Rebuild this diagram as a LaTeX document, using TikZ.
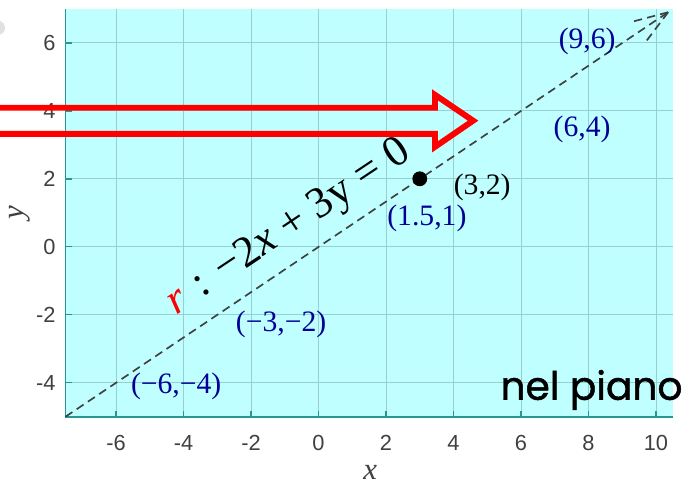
\documentclass[tikz,border=0pt]{standalone}
\usepackage{fontspec}
\setmainfont{Liberation Serif}
\newfontfamily\ticksf{Liberation Sans}
\newfontfamily\handsf{Poppins}[FakeBold=1.2]
\definecolor{plotbg}{RGB}{191,255,255}
\definecolor{axteal}{RGB}{38,150,150}
\definecolor{gridteal}{RGB}{150,208,208}
\definecolor{ticklab}{RGB}{64,64,64}
\definecolor{ptblue}{RGB}{0,0,150}
\definecolor{blob}{RGB}{225,225,225}
\begin{document}
\begin{tikzpicture}[x=0.5cm, y=0.5037cm,
  ticklbl/.style={font=\ticksf\fontsize{9.2}{11}\selectfont, text=ticklab, inner sep=0pt},
  ptlbl/.style={font=\fontsize{12.5}{14}\selectfont, text=ptblue, inner sep=0pt},
  axlbl/.style={font=\fontsize{13}{15}\selectfont\itshape, text=ticklab, inner sep=0pt},
  dashline/.style={draw=ticklab, line width=0.7pt, dash pattern=on 3.5pt off 2.2pt},
  bigarrow/.style={red, line width=2.5pt, miter limit=10}]
  \useasboundingbox (-9.44,-7.15) rectangle (10.8,7.26);
  \fill[blob] (-9.5,6.44) circle (0.21);
  % plot area and grid
  \fill[plotbg] (-7.5,-5) rectangle (10.5,7);
  \foreach \x in {-6,-4,...,10} \draw[gridteal, line width=0.4pt] (\x,-5) -- (\x,7);
  \foreach \y in {-4,-2,...,6} \draw[gridteal, line width=0.4pt] (-7.5,\y) -- (10.5,\y);
  \draw[axteal, line width=0.8pt] (-7.5,7) -- (-7.5,-5) -- (10.5,-5);
  \foreach \x [count=\i] in {-6,-4,...,10} {
    \draw[axteal, line width=0.6pt] (\x,-5) -- (\x,-4.82);
    \node[ticklbl] (xt\i) at (\x,-5.76) {\x};
  }
  \foreach \y [count=\i] in {-4,-2,...,6} {
    \draw[axteal, line width=0.6pt] (-7.5,\y) -- (-7.32,\y);
    \node[ticklbl, anchor=east] (yt\i) at (-7.78,\y) {\y};
  }
  \node[axlbl] (xlab) at (1.53,-6.65) {x};
  \node[axlbl, rotate=90] (ylab) at (-8.85,1.0) {y};
  % the line r and its points
  \coordinate (lstart) at (-7.5,-5);
  \coordinate (ltip) at (10.36,6.9);
  \draw[dashline] (lstart) -- (ltip);
  \draw[dashline] (ltip) -- ++(194.7:1.15);
  \draw[dashline] (ltip) -- ++(232.7:1.15);
  \node[circle, fill=black, inner sep=0pt, minimum size=0.22cm] (dot) at (3,2) {};
  \node[ptlbl] (p96) at (7.96,6.03) {(9,6)};
  \node[ptlbl] (p64) at (7.81,3.44) {(6,4)};
  \node[ptlbl, text=black] (p32) at (4.85,1.74) {(3,2)};
  \node[ptlbl] (p151) at (3.21,0.85) {(1.5,1)};
  \node[ptlbl] (pm32) at (-1.11,-2.29) {(−3,−2)};
  \node[ptlbl] (pm64) at (-4.22,-4.12) {(−6,−4)};
  \node[font=\fontsize{18.5}{21}\selectfont, rotate=33.7, anchor=base, inner sep=0pt] (eqr) at (-0.72,0.3)
    {\textcolor{red}{\textit{r}}\,\,:\,\,−2\textit{x} + 3y = 0};
  % big red arrow
  \draw[bigarrow] (-9.6,4.09) -- (3.45,4.09) -- (3.45,4.47) -- (4.58,3.71) -- (3.45,2.94) -- (3.45,3.32) -- (-9.6,3.32);
  \node[font=\handsf\fontsize{16.5}{19}\selectfont, anchor=base east, inner sep=0pt] (plane) at (10.8,-4.5) {nel piano};
\end{tikzpicture}
\end{document}
